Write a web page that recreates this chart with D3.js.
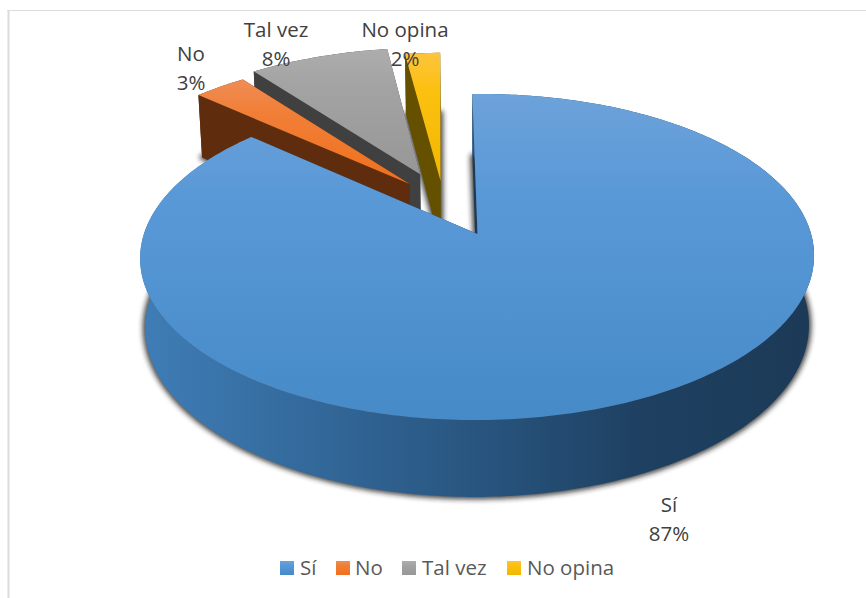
<!DOCTYPE html>
<html>
<head>
<meta charset="utf-8">
<script src="https://cdn.jsdelivr.net/npm/d3@7"></script>
<style>
html,body{margin:0;padding:0;background:#fff;overflow:hidden}
svg{display:block}
text{font-family:"Open Sans",Lato,sans-serif}
</style>
</head>
<body>
<div id="chart"></div>
<script>
const categories = ["Sí", "No", "Tal vez", "No opina"];
const values = [87, 3, 8, 2];
const topFrom = ["#6da2da", "#f08d55", "#adadad", "#fdc43c"];
const topMid = ["#5a99d7", "#f17f38", "#a3a3a3", "#fcc010"];
const topTo = ["#468ac8", "#f0701c", "#979797", "#f2b700"];
const wallColors = ["#1c3a57", "#5f2d0e", "#404040", "#655000"];
const labelPos = [[669, 512], [191, 61], [276, 37], [405, 37]];
const legendPos = [[280, 300], [336, 355], [402, 422], [507, 527]];
const nudgeX = [0, 0.005, -0.022, -0.017];
const nudgeZ = [0, 0, 0.03, -0.03];

const W = 866, H = 598;
const svg = d3.select("#chart").append("svg").attr("width", W).attr("height", H);
const defs = svg.append("defs");
defs.append("filter").attr("id", "blur")
  .attr("x", "-20%").attr("y", "-20%").attr("width", "140%").attr("height", "140%")
  .append("feGaussianBlur").attr("stdDeviation", 2.6);

// frame
svg.append("line").attr("x1", 7).attr("x2", W).attr("y1", 10.5).attr("y2", 10.5).attr("stroke", "#dcdcdc");
svg.append("line").attr("x1", 8.5).attr("x2", 8.5).attr("y1", 10).attr("y2", H).attr("stroke", "#dcdcdc").attr("stroke-width", 2);

// perspective disc projection (apex of first slice at origin)
const cx = 477.5, cy = 234, C = 333.6, B = 159.8, D = 70, k = 0.141, m = 0.015, explode = 0.2, shear = 3;
const project = (X, Z, h) => {
  const w = 1 + k * Z + m * h;
  return [cx + C * X / w + shear * Z, cy - (B * Z - D * h) / w];
};
const rotation = -1.6 * Math.PI / 180;
const pie = d3.pie().sort(null).startAngle(rotation).endAngle(rotation + 2 * Math.PI);
const arcs = pie(values);

const mid0 = (arcs[0].startAngle + arcs[0].endAngle) / 2;
const slices = arcs.map((a, i) => {
  const mid = (a.startAngle + a.endAngle) / 2;
  const ox = explode * (Math.sin(mid) - Math.sin(mid0)) + nudgeX[i];
  const oz = explode * (Math.cos(mid) - Math.cos(mid0)) + nudgeZ[i];
  const steps = Math.max(6, Math.round((a.endAngle - a.startAngle) * 60));
  const rim = h => d3.range(steps + 1).map(s => {
    const t = a.startAngle + (a.endAngle - a.startAngle) * s / steps;
    return project(ox + Math.sin(t), oz + Math.cos(t), h);
  });
  return {i, apex: h => project(ox, oz, h), rim};
});

const line = d3.line();
const closed = pts => line(pts) + "Z";

// gradients
topFrom.forEach((c, i) => {
  const g = defs.append("linearGradient").attr("id", "top" + i).attr("x1", 0).attr("x2", 0).attr("y1", 0).attr("y2", 1);
  g.append("stop").attr("offset", 0).attr("stop-color", c);
  g.append("stop").attr("offset", 0.3).attr("stop-color", topMid[i]);
  g.append("stop").attr("offset", 1).attr("stop-color", topTo[i]);
});
const wallG = defs.append("linearGradient").attr("id", "wall0").attr("gradientUnits", "userSpaceOnUse")
  .attr("x1", 143).attr("x2", 812).attr("y1", 0).attr("y2", 0);
[[0, "#3f7db6"], [0.25, "#33699b"], [0.5, "#28557f"], [0.75, "#1e4061"], [1, "#1c3a57"]]
  .forEach(s => wallG.append("stop").attr("offset", s[0]).attr("stop-color", s[1]));

// shadows of the bottom faces
const shadowLayer = svg.append("g").attr("filter", "url(#blur)");
slices.forEach(s => {
  const pts = [s.apex(1), ...s.rim(1)];
  shadowLayer.append("path").attr("d", closed(pts))
    .attr("fill", "#222").attr("stroke", "#222").attr("stroke-width", 5)
    .attr("stroke-linejoin", "round").attr("opacity", 0.8);
});

// painter's order: back slices first, first slice last
[2, 3, 1, 0].forEach(i => {
  const s = slices[i];
  const g = svg.append("g");
  const top = s.rim(0), bot = s.rim(1);
  const wallFill = i === 0 ? "url(#wall0)" : wallColors[i];
  const faces = [
    [s.apex(0), top[0], bot[0], s.apex(1)],
    [s.apex(0), top[top.length - 1], bot[bot.length - 1], s.apex(1)]
  ];
  faces.forEach(f => g.append("path").attr("d", closed(f)).attr("fill", wallColors[i]));
  g.append("path").attr("d", closed([...top, ...bot.slice().reverse()])).attr("fill", wallFill);
  g.append("path").attr("d", closed([s.apex(0), ...top])).attr("fill", `url(#top${i})`);
});

// data labels
const pct = d3.format(".0%");
const total = d3.sum(values);
categories.forEach((c, i) => {
  const t = svg.append("text").attr("text-anchor", "middle").attr("font-size", 20.5).attr("fill", "#404040");
  t.append("tspan").attr("x", labelPos[i][0]).attr("y", labelPos[i][1]).text(c);
  t.append("tspan").attr("x", labelPos[i][0]).attr("y", labelPos[i][1] + 29).text(pct(values[i] / total));
});

// legend
categories.forEach((c, i) => {
  const l = svg.append("g");
  l.append("rect").attr("x", legendPos[i][0]).attr("y", 561).attr("width", 14).attr("height", 14).attr("fill", `url(#top${i})`);
  l.append("text").attr("x", legendPos[i][1]).attr("y", 575).attr("font-size", 20.5).attr("fill", "#595959").text(c);
});
</script>
</body>
</html>
